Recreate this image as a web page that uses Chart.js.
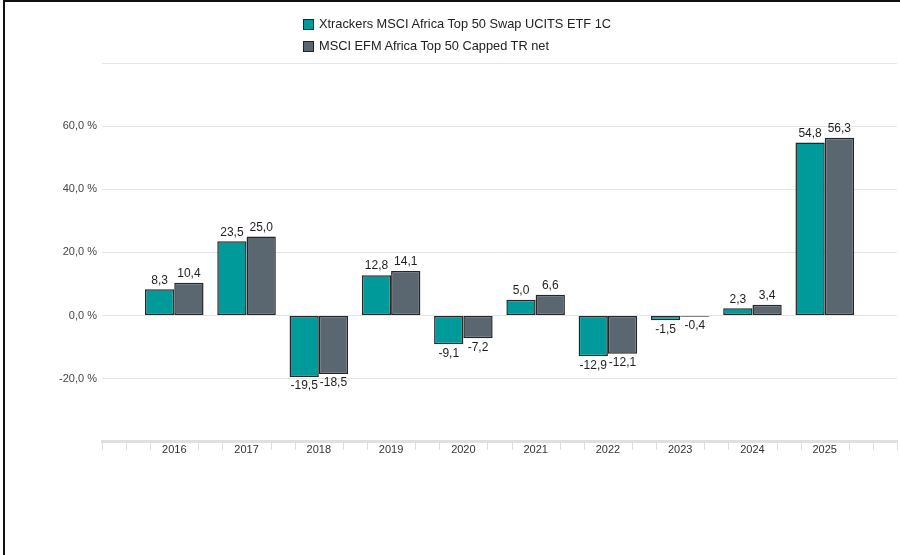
<!DOCTYPE html>
<html>
<head>
<meta charset="utf-8">
<script src="https://cdn.jsdelivr.net/npm/chart.js@4.4.1/dist/chart.umd.min.js"></script>
<style>
  html, body { margin: 0; padding: 0; background: #fff; }
  body { width: 900px; height: 555px; position: relative; overflow: hidden; font-family: 'Liberation Sans', Arial, sans-serif; }
  #frame { position: absolute; left: 3px; top: 0; width: 897px; height: 555px; border-top: 2px solid #111; border-left: 2px solid #111; box-sizing: border-box; }
  #wrap { position: absolute; left: 0; top: 0; width: 900px; height: 555px; }
  #legend { position: absolute; left: 303px; top: 13px; font-size: 12.8px; color: #222; }
  #legend div { height: 22px; line-height: 18px; display: flex; align-items: center; }
  #legend span.box { display: inline-block; width: 9px; height: 9px; border: 1px solid #222; margin-right: 5px; }
</style>
</head>
<body>
<div id="frame"></div>
<div id="wrap"><canvas id="myChart"></canvas></div>
<div id="legend"></div>
<script>
// datos del gráfico
const years = ['2016', '2017', '2018', '2019', '2020', '2021', '2022', '2023', '2024', '2025'];
const fundValues = [8.3, 23.5, -19.5, 12.8, -9.1, 5.0, -12.9, -1.5, 2.3, 54.8];
const indexValues = [10.4, 25.0, -18.5, 14.1, -7.2, 6.6, -12.1, -0.4, 3.4, 56.3];
const seriesNames = ['Xtrackers MSCI Africa Top 50 Swap UCITS ETF 1C', 'MSCI EFM Africa Top 50 Capped TR net'];
const seriesColors = ['#009a9b', '#5a6670'];

// una categoría vacía a cada lado, como en el original
const labels = [''].concat(years, ['']);
const pad = arr => [null].concat(arr, [null]);

const fmt = v => v.toFixed(1).replace('.', ',');

const valueLabels = {
    id: 'valueLabels',
    afterDatasetsDraw(chart) {
        const ctx = chart.ctx;
        ctx.save();
        ctx.font = '12px "Liberation Sans", Arial, sans-serif';
        ctx.fillStyle = '#1e1e1e';
        ctx.textAlign = 'center';
        chart.data.datasets.forEach((ds, di) => {
            chart.getDatasetMeta(di).data.forEach((el, i) => {
                const v = ds.data[i];
                if (v === null) return;
                if (v >= 0) {
                    ctx.textBaseline = 'bottom';
                    ctx.fillText(fmt(v), el.x, el.y - 3);
                } else {
                    ctx.textBaseline = 'top';
                    ctx.fillText(fmt(v), el.x, el.y + 3);
                }
            });
        });
        // pequeñas marcas del eje x
        const x = chart.scales.x;
        ctx.strokeStyle = '#dcdcdc';
        ctx.lineWidth = 1;
        const n = (labels.length - 1) * 3;
        for (let i = 0; i <= n; i++) {
            if (i % 3 === 0 && labels[i / 3] !== '') continue;
            const px = Math.round(x.getPixelForValue(i / 3)) + 0.5;
            ctx.beginPath();
            ctx.moveTo(px, x.top);
            ctx.lineTo(px, x.top + 8);
            ctx.stroke();
        }
        ctx.restore();
    }
};

const ctx = document.getElementById('myChart').getContext('2d');
const myChart = new Chart(ctx, {
    type: 'bar',
    data: {
        labels: labels,
        datasets: [
            { label: seriesNames[0], data: pad(fundValues), backgroundColor: seriesColors[0] },
            { label: seriesNames[1], data: pad(indexValues), backgroundColor: seriesColors[1] }
        ].map(d => Object.assign(d, {
            borderColor: '#262626',
            borderWidth: 1.5,
            borderSkipped: false,
            categoryPercentage: 0.81,
            barPercentage: 1
        }))
    },
    options: {
        responsive: true,
        maintainAspectRatio: false,
        animation: false,
        layout: { padding: { left: 2, right: 3, top: 63, bottom: 96 } },
        plugins: {
            legend: { display: false },
            tooltip: { enabled: false }
        },
        scales: {
            x: {
                offset: false,
                grid: { drawOnChartArea: false, drawTicks: false },
                border: { display: true, color: '#e0e0e0', width: 3 },
                ticks: {
                    color: '#333',
                    font: { size: 11, family: '"Liberation Sans", Arial, sans-serif' },
                    padding: 2,
                    maxRotation: 0,
                    autoSkip: false
                }
            },
            y: {
                min: -40,
                max: 80,
                afterFit(scale) { scale.width = 100; },
                grid: { color: '#e4e4e4', drawTicks: false },
                border: { display: false },
                ticks: {
                    stepSize: 20,
                    padding: 5,
                    color: '#444',
                    font: { size: 11, family: '"Liberation Sans", Arial, sans-serif' },
                    callback: v => (v === 80 || v === -40) ? '' : fmt(v) + ' %'
                }
            }
        }
    },
    plugins: [valueLabels]
});

// leyenda en html, una línea por serie
const legend = document.getElementById('legend');
seriesNames.forEach((name, i) => {
    const row = document.createElement('div');
    row.innerHTML = '<span class="box" style="background:' + seriesColors[i] + '"></span>' + name;
    legend.appendChild(row);
});
</script>
</body>
</html>
